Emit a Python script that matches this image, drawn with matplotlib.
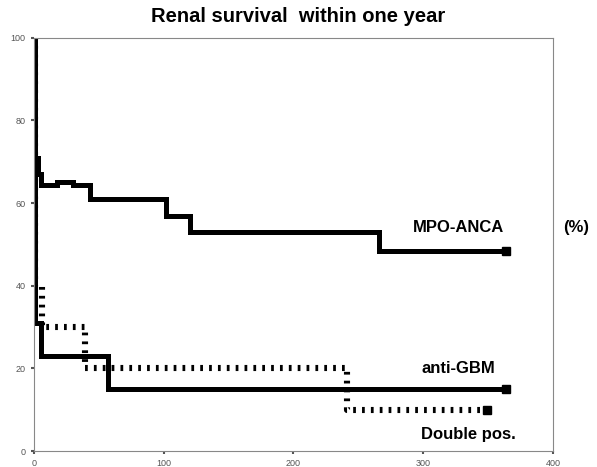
import matplotlib.pyplot as plt

# Kaplan-Meier style renal survival curves (days vs %)
mpo_days = [0, 1, 3, 5, 18, 30, 43, 102, 120, 266, 364]
mpo_surv = [100, 71, 67, 64.5, 65, 64.5, 61, 57, 53, 48.5, 48.5]

gbm_days = [0, 0.5, 5, 57, 364]
gbm_surv = [100, 31, 23, 15, 15]

dbl_days = [0, 0.5, 6, 39, 241, 349]
dbl_surv = [100, 40, 30, 20, 10, 10]

xticks = [0, 100, 200, 300, 400]
yticks = [0, 20, 40, 60, 80, 100]

plt.rcParams['font.family'] = ['Liberation Sans', 'DejaVu Sans']

fig = plt.figure(figsize=(5.97, 4.67), dpi=100)
ax = fig.add_axes([0.057, 0.034, 0.869, 0.885])

lw = 3.6
ax.step(mpo_days, mpo_surv, where='post', color='black', lw=lw, solid_joinstyle='miter')
ax.step(gbm_days, gbm_surv, where='post', color='black', lw=lw, solid_joinstyle='miter')
ax.step(dbl_days, dbl_surv, where='post', color='black', lw=4.4,
        linestyle=(0, (0.45, 1.0)))

# end squares
ax.plot(mpo_days[-1], mpo_surv[-1], 's', color='black', ms=6)
ax.plot(gbm_days[-1], gbm_surv[-1], 's', color='black', ms=6)
ax.plot(dbl_days[-1], dbl_surv[-1], 's', color='black', ms=6)

ax.set_xlim(0, 400)
ax.set_ylim(0, 100)
ax.set_xticks(xticks)
ax.set_yticks(yticks)
ax.tick_params(labelsize=6.5, colors='#555555', length=2, width=1.5, pad=4)
for s in ax.spines.values():
    s.set_color('#888888')
    s.set_linewidth(0.8)

bold = dict(fontsize=12, fontweight='heavy', color='black', ha='center', va='center')
ax.text(327, 54, 'MPO-ANCA', **bold)
ax.text(327, 20, 'anti-GBM', **bold)
ax.text(335, 4.1, 'Double pos.', **bold)
ax.text(418, 54, '(%)', clip_on=False, **bold)

fig.text(0.5, 0.964, 'Renal survival  within one year', fontsize=14.5,
         fontweight='heavy', ha='center', va='center')

fig.savefig('out.png', dpi=100)
